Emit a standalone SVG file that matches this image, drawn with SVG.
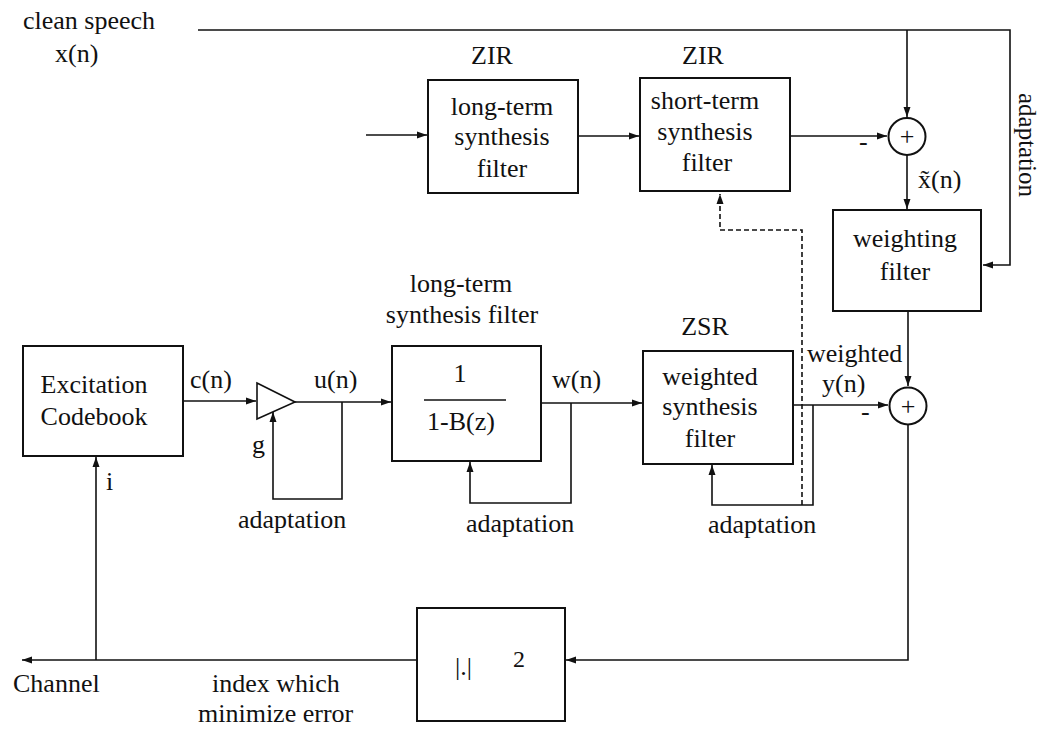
<svg xmlns="http://www.w3.org/2000/svg" width="1042" height="729" viewBox="0 0 1042 729">
<style>
text{font-family:"Liberation Serif","Times New Roman",serif;font-size:26px;fill:#111}
.m{text-anchor:middle}
.box{fill:#fff;stroke:#111;stroke-width:2}
.ln{fill:none;stroke:#111;stroke-width:1.6}
.dash{fill:none;stroke:#111;stroke-width:1.6;stroke-dasharray:5 3}
</style>
<defs>
<marker id="ar" markerUnits="userSpaceOnUse" markerWidth="10" markerHeight="8" refX="10" refY="4" orient="auto">
<path d="M0,0.5 L10,4 L0,7.5 Z" fill="#111"/>
</marker>
</defs>
<rect width="1042" height="729" fill="#fff"/>

<g id="connectors">
<path class="ln" d="M198,30 H1010 V265 H983" marker-end="url(#ar)"/>
<path class="ln" d="M907,30 V117" marker-end="url(#ar)"/>
<path class="ln" d="M366,135 H427" marker-end="url(#ar)"/>
<path class="ln" d="M578,136 H639" marker-end="url(#ar)"/>
<path class="ln" d="M790,136 H887" marker-end="url(#ar)"/>
<path class="ln" d="M907,155 V209" marker-end="url(#ar)"/>
<path class="ln" d="M908,311 V386" marker-end="url(#ar)"/>
<path class="ln" d="M908,425 V660 H566" marker-end="url(#ar)"/>
<path class="ln" d="M417,660 H22" marker-end="url(#ar)"/>
<path class="ln" d="M96,660 V457" marker-end="url(#ar)"/>
<path class="ln" d="M183,401 H256" marker-end="url(#ar)"/>
<path class="ln" d="M295,402 H391" marker-end="url(#ar)"/>
<path class="ln" d="M342,402 V499 H273 V412" marker-end="url(#ar)"/>
<path class="ln" d="M541,403 H642" marker-end="url(#ar)"/>
<path class="ln" d="M571,403 V503 H470 V462" marker-end="url(#ar)"/>
<path class="ln" d="M793,405 H888" marker-end="url(#ar)"/>
<path class="ln" d="M813,405 V505 H712 V465" marker-end="url(#ar)"/>
<path class="dash" d="M802,505 V230 H720 V194" marker-end="url(#ar)"/>
</g>

<g id="input-label">
<text x="23" y="29">clean speech</text>
<text x="55" y="62">x(n)</text>
</g>

<g id="zir-longterm">
<text class="m" x="492" y="64">ZIR</text>
<rect class="box" x="428" y="80" width="150" height="113"/>
<text class="m" x="502" y="115">long-term</text>
<text class="m" x="502" y="145">synthesis</text>
<text class="m" x="502" y="177">filter</text>
</g>

<g id="zir-shortterm">
<text class="m" x="703" y="64">ZIR</text>
<rect class="box" x="640" y="78" width="150" height="113"/>
<text class="m" x="705" y="109">short-term</text>
<text class="m" x="705" y="140">synthesis</text>
<text class="m" x="707" y="171">filter</text>
</g>

<g id="sum-top">
<circle class="box" cx="907" cy="136.5" r="18.5"/>
<text class="m" x="907" y="145">+</text>
<text x="859" y="150">-</text>
<text x="918" y="188">x̃(n)</text>
</g>

<g id="weighting-filter">
<rect class="box" x="833" y="210" width="148" height="101"/>
<text class="m" x="905" y="247">weighting</text>
<text class="m" x="905" y="280">filter</text>
</g>

<text transform="translate(1019,145) rotate(90)" class="m" style="font-size:25px">adaptation</text>

<g id="codebook">
<rect class="box" x="23" y="346" width="160" height="110"/>
<text class="m" x="94" y="393">Excitation</text>
<text class="m" x="94" y="425">Codebook</text>
<text x="190" y="388">c(n)</text>
<text x="106" y="490">i</text>
</g>

<g id="gain">
<polygon class="box" points="257,383 295,402 257,419" style="stroke-width:1.6"/>
<text x="314" y="388">u(n)</text>
<text x="252" y="453">g</text>
<text x="238" y="528">adaptation</text>
</g>

<g id="longterm-filter">
<text class="m" x="461" y="292">long-term</text>
<text class="m" x="462" y="323">synthesis filter</text>
<rect class="box" x="392" y="346" width="149" height="115"/>
<text class="m" x="460" y="382">1</text>
<line class="ln" x1="424" y1="400" x2="506" y2="400"/>
<text class="m" x="461" y="430">1-B(z)</text>
<text x="552" y="388">w(n)</text>
<text x="466" y="532">adaptation</text>
</g>

<g id="zsr-filter">
<text class="m" x="705" y="335">ZSR</text>
<rect class="box" x="643" y="351" width="150" height="113"/>
<text class="m" x="710" y="385">weighted</text>
<text class="m" x="710" y="415">synthesis</text>
<text class="m" x="710" y="447">filter</text>
<text x="807" y="362">weighted</text>
<text x="822" y="392">y(n)</text>
<text x="861" y="420">-</text>
<text x="708" y="533">adaptation</text>
</g>

<g id="sum-bottom">
<circle class="box" cx="908" cy="406" r="18.5"/>
<text class="m" x="908" y="415">+</text>
</g>

<g id="error-norm">
<rect class="box" x="417" y="608" width="148" height="113"/>
<text x="455" y="675">|.|</text>
<text x="513" y="667" style="font-size:24px">2</text>
</g>

<g id="output-labels">
<text x="13" y="692">Channel</text>
<text x="212" y="692">index which</text>
<text x="198" y="722">minimize error</text>
</g>
</svg>
